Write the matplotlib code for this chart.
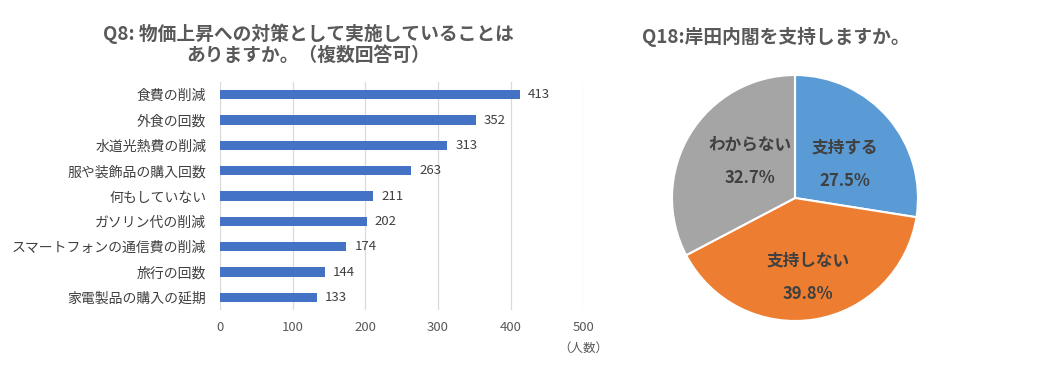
import numpy as np
import matplotlib.pyplot as plt

plt.rcParams['font.family'] = ['Noto Sans CJK JP', 'DejaVu Sans']

# Q8 data (bar chart)
measures = ['食費の削減', '外食の回数', '水道光熱費の削減', '服や装飾品の購入回数', '何もしていない',
            'ガソリン代の削減', 'スマートフォンの通信費の削減', '旅行の回数', '家電製品の購入の延期']
counts = [413, 352, 313, 263, 211, 202, 174, 144, 133]
x_ticks = [0, 100, 200, 300, 400, 500]

# Q18 data (pie chart)
support_labels = ['支持する', '支持しない', 'わからない']
support_pct = [27.5, 39.8, 32.7]
pie_colors = ['#5B9BD5', '#ED7D31', '#A5A5A5']

text_col = '#404040'
title_col = '#595959'

fig = plt.figure(figsize=(10.38, 3.71), dpi=100)

# ---- bar chart ----
ax = fig.add_axes([0.212, 0.164, 0.350, 0.615])
y = np.arange(len(measures))
ax.barh(y, counts, height=0.37, color='#4472C4', zorder=3)
ax.set_ylim(len(measures) - 0.5, -0.5)
ax.set_xlim(0, 500)
ax.set_yticks(y)
ax.set_yticklabels(measures, fontsize=10, color=text_col)
ax.set_xticks(x_ticks)
ax.set_xticklabels([str(t) for t in x_ticks], fontsize=9.5, color=title_col)
ax.tick_params(length=0, pad=10, axis='y')
ax.tick_params(length=0, pad=8, axis='x')
ax.grid(axis='x', color='#D9D9D9', linewidth=0.9, zorder=0)
for s in ax.spines.values():
    s.set_visible(False)
for yi, c in zip(y, counts):
    ax.text(c + 11, yi, str(c), va='center', ha='left', fontsize=9.5, color=text_col)
ax.text(500, -0.165, '（人数）', transform=ax.get_xaxis_transform(), ha='center', va='center',
        fontsize=9, color=title_col)
fig.text(0.297, 0.881, 'Q8: 物価上昇への対策として実施していることは\nありますか。（複数回答可）',
         ha='center', va='center', fontsize=13.5, fontweight='bold', color=title_col, linespacing=1.12)

# ---- pie chart ----
pax = fig.add_axes([0.6474, 0.1348, 0.237, 0.663])
wedges, _ = pax.pie(support_pct, colors=pie_colors, startangle=90, counterclock=False,
                    wedgeprops=dict(edgecolor='white', linewidth=1.5))
pax.set_xlim(-1, 1)
pax.set_ylim(-1, 1)
pax.set_aspect('equal')
# label placement inside each wedge: (distance from centre, angle shift in degrees)
label_pos = [(0.49, -6), (0.65, 0), (0.47, -8)]
for w, lab, p, (d, shift) in zip(wedges, support_labels, support_pct, label_pos):
    ang = np.deg2rad((w.theta1 + w.theta2) / 2 + shift)
    pax.text(d * np.cos(ang), d * np.sin(ang), f'{lab}\n\n{p:.1f}%', ha='center', va='center',
             fontsize=12, fontweight='bold', color=text_col, linespacing=0.92)
fig.text(0.747, 0.900, 'Q18:岸田内閣を支持しますか。', ha='center', va='center',
         fontsize=13.5, fontweight='bold', color=title_col)

fig.savefig('out.png', dpi=100, facecolor='white')
